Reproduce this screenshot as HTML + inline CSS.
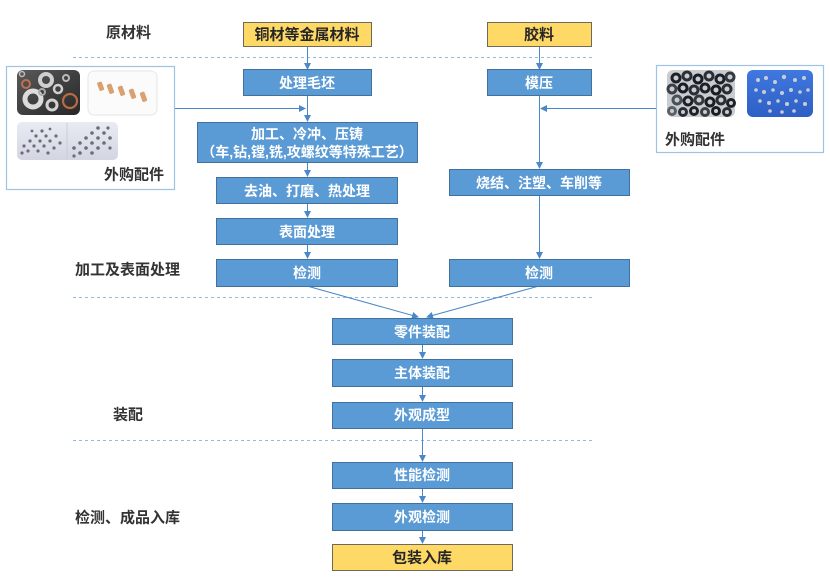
<!DOCTYPE html>
<html><head><meta charset="utf-8">
<style>
html,body{margin:0;padding:0;background:#fff;}
svg{display:block;}
text{font-family:"Liberation Sans","Noto Sans CJK SC",sans-serif;}
.bt{fill:#fff;font-size:14px;font-weight:bold;text-anchor:middle;dominant-baseline:central;}
.yt{fill:#262626;font-size:15px;font-weight:bold;text-anchor:middle;dominant-baseline:central;}
.lb{fill:#333;font-size:15px;font-weight:bold;dominant-baseline:central;}
.bx{fill:#5B9BD5;stroke:#41719C;stroke-width:1;}
.yx{fill:#FFD966;stroke:#6e6a5a;stroke-width:1;}
.ln{stroke:#4A88C8;stroke-width:1;fill:none;}
.ds{stroke:#8DBBE6;stroke-width:1;stroke-dasharray:3,3;fill:none;}
</style></head>
<body>
<svg width="830" height="584" viewBox="0 0 830 584" xmlns="http://www.w3.org/2000/svg">
<defs>
<marker id="ah" markerWidth="7" markerHeight="7" refX="6" refY="3.5" orient="auto" markerUnits="userSpaceOnUse">
<path d="M0,0 L7,3.5 L0,7 z" fill="#4A88C8"/>
</marker>
<linearGradient id="g1" x1="0" y1="0" x2="1" y2="1"><stop offset="0" stop-color="#5a5a5a"/><stop offset="1" stop-color="#262626"/></linearGradient>
<linearGradient id="g3" x1="0" y1="0" x2="0" y2="1"><stop offset="0" stop-color="#e9ebf3"/><stop offset="1" stop-color="#d3d6e2"/></linearGradient>
<linearGradient id="g5" x1="0" y1="0" x2="0" y2="1"><stop offset="0" stop-color="#3f78e0"/><stop offset="1" stop-color="#2f5fc4"/></linearGradient>
</defs>

<!-- dashed separators -->
<line class="ds" x1="73" y1="57.5" x2="594" y2="57.5"/>
<line class="ds" x1="73" y1="297.5" x2="594" y2="297.5"/>
<line class="ds" x1="73" y1="440.5" x2="594" y2="440.5"/>

<!-- stage labels -->
<text class="lb" x="106" y="33">原材料</text>
<text class="lb" x="75" y="270">加工及表面处理</text>
<text class="lb" x="113" y="415">装配</text>
<text class="lb" x="75" y="518">检测、成品入库</text>

<!-- left external box -->
<rect x="6.5" y="66.5" width="168" height="123" fill="#fff" stroke="#9DC3E6" stroke-width="1.2"/>
<!-- photo 1: washers -->
<rect x="17" y="70" width="63" height="45" rx="6" fill="url(#g1)"/>
<g fill="none">
<circle cx="33" cy="99" r="8" stroke="#dcdcdc" stroke-width="5"/>
<circle cx="46" cy="80" r="6" stroke="#cfcfcf" stroke-width="4"/>
<circle cx="26" cy="84" r="4" stroke="#c07050" stroke-width="2"/>
<circle cx="58" cy="89" r="4" stroke="#cfcfcf" stroke-width="2.5"/>
<circle cx="70" cy="101" r="7" stroke="#b86a45" stroke-width="2.2"/>
<circle cx="52" cy="105" r="5" stroke="#d2d2d2" stroke-width="3"/>
<circle cx="66" cy="78" r="3" stroke="#bbb" stroke-width="2"/>
<circle cx="42" cy="92" r="3" stroke="#aaa" stroke-width="2"/>
<circle cx="22" cy="74" r="2.5" stroke="#bbb" stroke-width="1.5"/>
</g>
<!-- photo 2: copper tubes -->
<rect x="88" y="71" width="69" height="44" rx="6" fill="#fbfbfb" stroke="#e6e6e6" stroke-width="1"/>
<g fill="#d9a070">
<rect x="98" y="82" width="5" height="9" rx="1.5" transform="rotate(-20 100 86)"/>
<rect x="108" y="84" width="5" height="10" rx="1.5" transform="rotate(-20 110 89)"/>
<rect x="119" y="86" width="5" height="10" rx="1.5" transform="rotate(-20 121 91)"/>
<rect x="130" y="89" width="5" height="10" rx="1.5" transform="rotate(-20 132 94)"/>
<rect x="141" y="92" width="5" height="10" rx="1.5" transform="rotate(-20 143 97)"/>
</g>
<!-- photo 3: small metal parts -->
<rect x="17" y="122" width="101" height="38" rx="5" fill="url(#g3)"/>
<line x1="67" y1="123" x2="67" y2="159" stroke="#c9ccd8" stroke-width="1"/>
<g fill="#6b6e78">
<circle cx="24" cy="146" r="1.6"/><circle cx="30" cy="141" r="1.6"/><circle cx="36" cy="136" r="1.6"/><circle cx="42" cy="131" r="1.6"/>
<circle cx="28" cy="151" r="1.6"/><circle cx="34" cy="146" r="1.6"/><circle cx="40" cy="141" r="1.6"/><circle cx="46" cy="136" r="1.6"/>
<circle cx="38" cy="151" r="1.6"/><circle cx="44" cy="146" r="1.6"/><circle cx="50" cy="141" r="1.6"/><circle cx="56" cy="136" r="1.6"/>
<circle cx="48" cy="153" r="1.6"/><circle cx="54" cy="148" r="1.6"/><circle cx="60" cy="143" r="1.6"/>
<circle cx="22" cy="153" r="1.6"/><circle cx="32" cy="131" r="1.4"/><circle cx="50" cy="129" r="1.4"/>
<circle cx="74" cy="148" r="1.8"/><circle cx="80" cy="143" r="1.8"/><circle cx="86" cy="138" r="1.8"/><circle cx="92" cy="133" r="1.8"/><circle cx="98" cy="128" r="1.8"/>
<circle cx="80" cy="153" r="1.8"/><circle cx="86" cy="148" r="1.8"/><circle cx="92" cy="143" r="1.8"/><circle cx="98" cy="138" r="1.8"/><circle cx="104" cy="133" r="1.8"/>
<circle cx="92" cy="153" r="1.8"/><circle cx="98" cy="148" r="1.8"/><circle cx="104" cy="143" r="1.8"/><circle cx="110" cy="138" r="1.8"/>
<circle cx="108" cy="128" r="1.6"/><circle cx="110" cy="148" r="1.6"/><circle cx="74" cy="156" r="1.6"/>
</g>
<text class="lb" x="104" y="175">外购配件</text>

<!-- right external box -->
<rect x="656.5" y="65.5" width="167" height="87" fill="#fff" stroke="#9DC3E6" stroke-width="1.2"/>
<rect x="667" y="70" width="68" height="47" rx="6" fill="#c9cdd2"/>
<g fill="none" stroke-width="3">
<circle cx="676" cy="78" r="4" stroke="#1e2226"/><circle cx="687" cy="76" r="4" stroke="#2a2f35"/><circle cx="698" cy="79" r="4" stroke="#1a1d21"/>
<circle cx="709" cy="76" r="4" stroke="#2a2f35"/><circle cx="720" cy="79" r="4" stroke="#1e2226"/><circle cx="730" cy="77" r="4" stroke="#34393f"/>
<circle cx="672" cy="89" r="4" stroke="#3a4048"/><circle cx="683" cy="88" r="4" stroke="#1a1d21"/><circle cx="694" cy="90" r="4" stroke="#2a2f35"/>
<circle cx="705" cy="88" r="4" stroke="#1e2226"/><circle cx="716" cy="90" r="4" stroke="#1a1d21"/><circle cx="727" cy="89" r="4" stroke="#2a2f35"/>
<circle cx="677" cy="100" r="4" stroke="#4a5058"/><circle cx="688" cy="101" r="4" stroke="#1e2226"/><circle cx="699" cy="100" r="4" stroke="#34393f"/>
<circle cx="710" cy="102" r="4" stroke="#1a1d21"/><circle cx="721" cy="100" r="4" stroke="#2a2f35"/><circle cx="731" cy="103" r="3.5" stroke="#1e2226"/>
<circle cx="672" cy="111" r="3.5" stroke="#5a6068"/><circle cx="683" cy="112" r="3.5" stroke="#2a2f35"/><circle cx="694" cy="111" r="3.5" stroke="#1e2226"/>
<circle cx="705" cy="112" r="3.5" stroke="#3a4048"/><circle cx="716" cy="111" r="3.5" stroke="#1a1d21"/><circle cx="727" cy="112" r="3.5" stroke="#2a2f35"/>
</g>
<rect x="747" y="70" width="66" height="47" rx="6" fill="url(#g5)"/>
<g fill="#c8ccd6">
<circle cx="758" cy="80" r="2"/><circle cx="766" cy="78" r="2"/><circle cx="775" cy="82" r="2"/><circle cx="784" cy="77" r="2.2"/><circle cx="795" cy="80" r="2"/><circle cx="804" cy="78" r="2"/>
<circle cx="756" cy="90" r="1.8"/><circle cx="764" cy="92" r="2"/><circle cx="773" cy="90" r="1.8"/><circle cx="782" cy="93" r="2"/><circle cx="791" cy="90" r="2"/><circle cx="800" cy="92" r="1.8"/><circle cx="808" cy="90" r="1.8"/>
<circle cx="760" cy="101" r="1.8"/><circle cx="769" cy="103" r="2"/><circle cx="778" cy="101" r="1.8"/><circle cx="787" cy="104" r="2"/><circle cx="796" cy="101" r="1.8"/><circle cx="805" cy="104" r="2"/>
<circle cx="770" cy="111" r="1.8"/><circle cx="782" cy="112" r="1.8"/><circle cx="794" cy="111" r="1.8"/>
</g>
<text class="lb" x="665" y="140">外购配件</text>

<!-- connectors -->
<line class="ln" x1="307.5" y1="47" x2="307.5" y2="69" marker-end="url(#ah)"/>
<line class="ln" x1="307.5" y1="96" x2="307.5" y2="121" marker-end="url(#ah)"/>
<line class="ln" x1="175" y1="108.5" x2="305" y2="108.5" marker-end="url(#ah)"/>
<line class="ln" x1="307.5" y1="162" x2="307.5" y2="176" marker-end="url(#ah)"/>
<line class="ln" x1="307.5" y1="203" x2="307.5" y2="217" marker-end="url(#ah)"/>
<line class="ln" x1="307.5" y1="244" x2="307.5" y2="258" marker-end="url(#ah)"/>
<line class="ln" x1="539.5" y1="47" x2="539.5" y2="69" marker-end="url(#ah)"/>
<line class="ln" x1="539.5" y1="96" x2="539.5" y2="168" marker-end="url(#ah)"/>
<line class="ln" x1="656" y1="108.5" x2="541" y2="108.5" marker-end="url(#ah)"/>
<line class="ln" x1="539.5" y1="195" x2="539.5" y2="258" marker-end="url(#ah)"/>
<line class="ln" x1="307" y1="286" x2="418" y2="317" marker-end="url(#ah)"/>
<line class="ln" x1="539" y1="286" x2="427" y2="317" marker-end="url(#ah)"/>
<line class="ln" x1="422.5" y1="344" x2="422.5" y2="358" marker-end="url(#ah)"/>
<line class="ln" x1="422.5" y1="386" x2="422.5" y2="401" marker-end="url(#ah)"/>
<line class="ln" x1="422.5" y1="428" x2="422.5" y2="461" marker-end="url(#ah)"/>
<line class="ln" x1="422.5" y1="488" x2="422.5" y2="502" marker-end="url(#ah)"/>
<line class="ln" x1="422.5" y1="530" x2="422.5" y2="543" marker-end="url(#ah)"/>

<!-- left column boxes -->
<rect class="yx" x="243.5" y="22.5" width="128" height="24"/>
<text class="yt" x="307" y="35">铜材等金属材料</text>
<rect class="bx" x="243.5" y="69.5" width="128" height="26"/>
<text class="bt" x="307" y="83">处理毛坯</text>
<rect class="bx" x="197.5" y="122.5" width="220" height="40"/>
<text class="bt" x="307" y="134">加工、冷冲、压铸</text>
<text class="bt" x="307" y="152">（车,钻,镗,铣,攻螺纹等特殊工艺）</text>
<rect class="bx" x="216.5" y="177.5" width="181" height="26"/>
<text class="bt" x="307" y="191">去油、打磨、热处理</text>
<rect class="bx" x="216.5" y="218.5" width="181" height="26"/>
<text class="bt" x="307" y="232">表面处理</text>
<rect class="bx" x="216.5" y="259.5" width="181" height="27"/>
<text class="bt" x="307" y="273">检测</text>

<!-- right column boxes -->
<rect class="yx" x="487.5" y="22.5" width="104" height="24"/>
<text class="yt" x="539" y="35">胶料</text>
<rect class="bx" x="487.5" y="69.5" width="104" height="26"/>
<text class="bt" x="539" y="83">模压</text>
<rect class="bx" x="449.5" y="169.5" width="180" height="26"/>
<text class="bt" x="539" y="183">烧结、注塑、车削等</text>
<rect class="bx" x="449.5" y="259.5" width="180" height="27"/>
<text class="bt" x="539" y="273">检测</text>

<!-- center column -->
<rect class="bx" x="332.5" y="318.5" width="180" height="26"/>
<text class="bt" x="422" y="332">零件装配</text>
<rect class="bx" x="332.5" y="359.5" width="180" height="27"/>
<text class="bt" x="422" y="373">主体装配</text>
<rect class="bx" x="332.5" y="402.5" width="180" height="26"/>
<text class="bt" x="422" y="415">外观成型</text>
<rect class="bx" x="332.5" y="462.5" width="180" height="26"/>
<text class="bt" x="422" y="475">性能检测</text>
<rect class="bx" x="332.5" y="503.5" width="180" height="27"/>
<text class="bt" x="422" y="517">外观检测</text>
<rect class="yx" x="332.5" y="544.5" width="180" height="26"/>
<text class="yt" x="422" y="558">包装入库</text>
</svg>
</body></html>
